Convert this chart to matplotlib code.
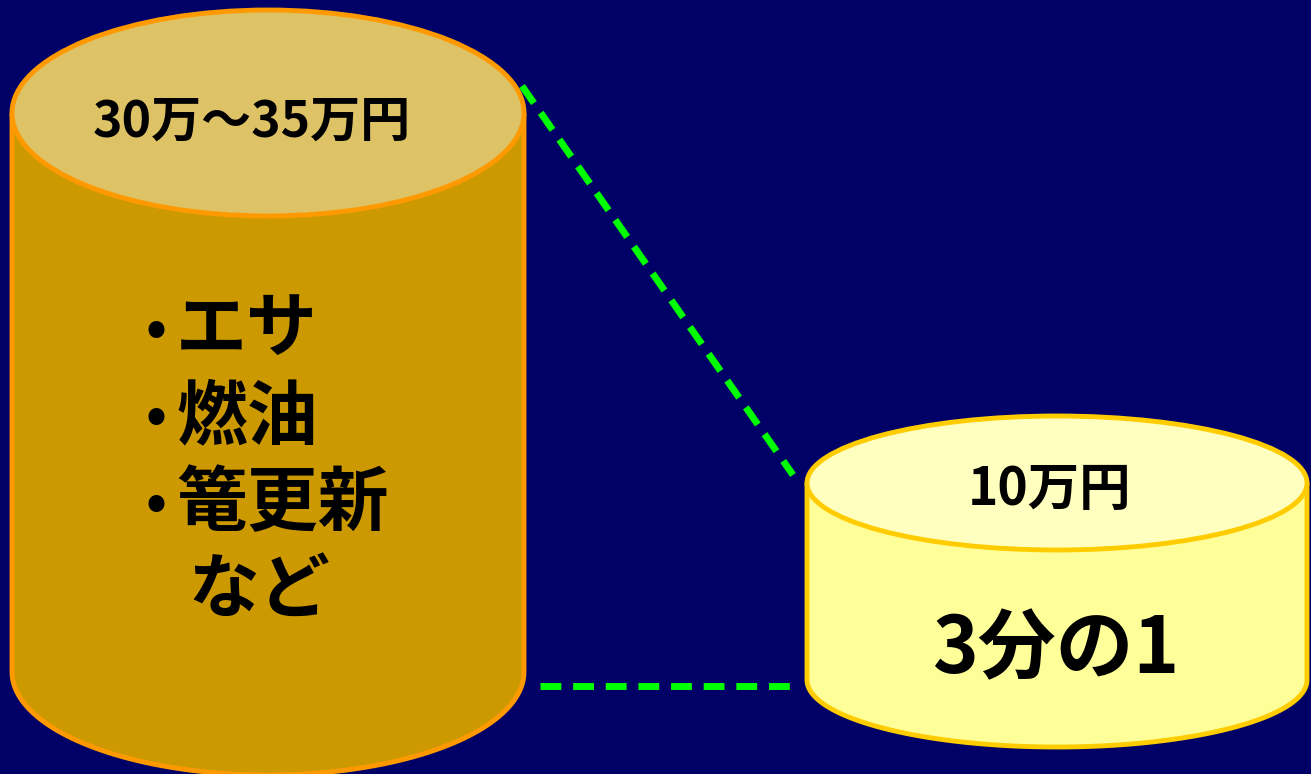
import matplotlib.pyplot as plt
import numpy as np
from matplotlib.patches import Ellipse, Polygon

plt.rcParams['font.family'] = ['Noto Sans CJK JP', 'DejaVu Sans']

# labels
big_top_label = '30万～35万円'
big_items = ['エサ', '燃油', '篭更新', 'など']
big_bullets = [True, True, True, False]
small_top_label = '10万円'
small_body_label = '3分の1'

# cylinders (pixel space): cx, half width, top y, bottom y, ellipse half height
big_cyl = dict(cx=268, a=256, top=113, bottom=672, b=103,
               body='#CC9900', cap='#DEC266', edge='#FF9900')
small_cyl = dict(cx=1057, a=250, top=483, bottom=680, b=67,
                 body='#FFFF99', cap='#FFFFC0', edge='#FFCC00')

W, H = 1311, 774
fig = plt.figure(figsize=(W / 100, H / 100), dpi=100)
fig.patch.set_facecolor('#000066')
ax = fig.add_axes([0, 0, 1, 1])
ax.set_xlim(0, W)
ax.set_ylim(H, 0)
ax.axis('off')


def draw_cylinder(c):
    t = np.linspace(np.pi, 0, 100)
    bottom_arc = np.column_stack([c['cx'] + c['a'] * np.cos(t), c['bottom'] + c['b'] * np.sin(t)])
    top_arc = np.column_stack([c['cx'] + c['a'] * np.cos(t[::-1]), c['top'] + c['b'] * np.sin(t[::-1])])
    body = np.vstack([[[c['cx'] - c['a'], c['top']]], bottom_arc, [[c['cx'] + c['a'], c['top']]], top_arc])
    ax.add_patch(Polygon(body, closed=True, facecolor=c['body'], edgecolor='none', zorder=2))
    outline = np.vstack([[[c['cx'] - c['a'], c['top']]], bottom_arc, [[c['cx'] + c['a'], c['top']]]])
    ax.plot(outline[:, 0], outline[:, 1], color=c['edge'], lw=3.5, zorder=3, solid_capstyle='butt')
    ax.add_patch(Ellipse((c['cx'], c['top']), 2 * c['a'], 2 * c['b'], facecolor=c['cap'],
                         edgecolor=c['edge'], lw=3.5, zorder=4))


draw_cylinder(big_cyl)
draw_cylinder(small_cyl)

# connecting dashed lines
ax.plot([522, 793], [86, 475], color='#00FF00', lw=5, linestyle=(0, (3, 1.7)), zorder=1)
ax.plot([540, 790], [686, 686], color='#00FF00', lw=5, linestyle=(0, (3, 1.7)), zorder=1)

ax.text(252, 122, big_top_label, ha='center', va='center', fontsize=36, fontweight='bold', zorder=5)
for i, (item, bullet) in enumerate(zip(big_items, big_bullets)):
    y = 330 + i * 87
    if bullet:
        ax.text(145, y, '•', ha='left', va='center', fontsize=40, fontweight='bold', zorder=5)
        ax.text(176, y, item, ha='left', va='center', fontsize=51, fontweight='bold', zorder=5)
    else:
        ax.text(188, y, item, ha='left', va='center', fontsize=51, fontweight='bold', zorder=5)

ax.text(1050, 490, small_top_label, ha='center', va='center', fontsize=37, fontweight='bold', zorder=5)
ax.text(1056, 650, small_body_label, ha='center', va='center', fontsize=56, fontweight='bold', zorder=5)

fig.savefig('out.png', dpi=100, facecolor=fig.get_facecolor())
